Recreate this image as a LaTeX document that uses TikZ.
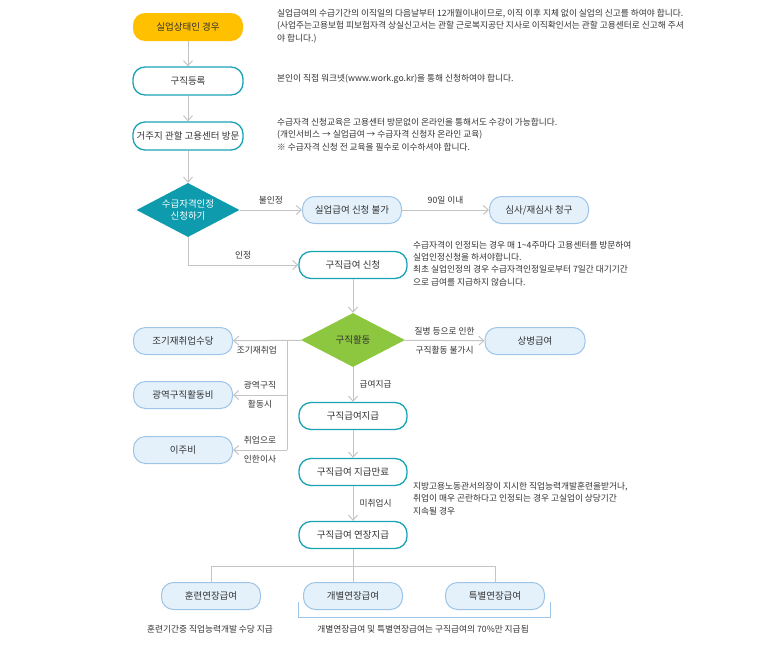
\documentclass[tikz,border=0pt]{standalone}
\usepackage{fontspec}
\setmainfont{Noto Sans CJK KR}
\usetikzlibrary{arrows.meta,shapes.geometric}
\definecolor{teal1}{HTML}{1AA3B5}
\definecolor{lbfill}{HTML}{E4F1FB}
\definecolor{lbdraw}{HTML}{9EC4E8}
\definecolor{ylw}{HTML}{FFC000}
\definecolor{dteal}{HTML}{0E9BAE}
\definecolor{grn}{HTML}{8DC63F}
\definecolor{lin}{HTML}{C4C4C4}
\definecolor{txt}{HTML}{333333}
\begin{document}
\begin{tikzpicture}[x=1pt,y=-1pt,
 font=\fontsize{9.5}{11}\selectfont, text=txt,
 pill/.style={rounded corners=12pt,minimum height=27pt,inner sep=0pt,line width=1.3pt},
 whitebox/.style={pill,draw=teal1,fill=white,minimum width=108pt},
 bluebox/.style={pill,draw=lbdraw,fill=lbfill,line width=1pt,minimum width=99pt},
 dia/.style={diamond,aspect=1.9,inner sep=0pt,minimum width=104pt,minimum height=54pt,text=white},
 conn/.style={draw=lin,line width=1pt,-{Straight Barb[length=5pt,width=9pt]}},
 plain/.style={draw=lin,line width=1pt},
 note/.style={font=\fontsize{8.7}{12.3}\selectfont,align=left,anchor=north west,inner sep=0pt},
 lab/.style={font=\fontsize{8.7}{10}\selectfont,inner sep=0pt}]
\useasboundingbox (0,0) rectangle (771,648);
\node[pill,fill=ylw,minimum width=110pt,minimum height=28pt,line width=0pt] (s1) at (188,27) {실업상태인 경우};
\node[whitebox,minimum width=110pt,minimum height=28pt] (s2) at (188,81) {구직등록};
\node[whitebox,minimum width=110pt,minimum height=28pt] (s3) at (188,136) {거주지 관할 고용센터 방문};
\node[dia,fill=dteal,minimum width=103pt,align=center,font=\fontsize{9.5}{12}\selectfont] (d1) at (188,210) {수급자격인정\\신청하기};
\node[bluebox] (n1) at (352,210) {실업급여 신청 불가};
\node[bluebox] (n2) at (539,210) {심사/재심사 청구};
\node[whitebox] (a1) at (353,265) {구직급여 신청};
\node[dia,fill=grn,text=txt] (d2) at (353,340) {구직활동};
\node[bluebox,minimum width=100pt] (sb) at (535,341) {상병급여};
\node[bluebox] (l1) at (183,341) {조기재취업수당};
\node[bluebox] (l2) at (183,395) {광역구직활동비};
\node[bluebox] (l3) at (183,450) {이주비};
\node[whitebox] (a2) at (353,416) {구직급여지급};
\node[whitebox] (a3) at (353,472) {구직급여 지급만료};
\node[whitebox] (a4) at (353,535) {구직급여 연장지급};
\node[bluebox] (e1) at (211,596) {훈련연장급여};
\node[bluebox] (e2) at (353,596) {개별연장급여};
\node[bluebox] (e3) at (495,596) {특별연장급여};
% notes
\node[note] (t1) at (277,9) {실업급여의 수급기간의 이직일의 다음날부터 12개월이내이므로, 이직 이후 지체 없이 실업의 신고를 하여야 합니다.\\(사업주는고용보험 피보험자격 상실신고서는 관할 근로복지공단 지사로 이직확인서는 관할 고용센터로 신고해 주셔\\야 합니다.)};
\node[note] (t2) at (277,74) {본인이 직접 워크넷(www.work.go.kr)을 통해 신청하여야 합니다.};
\node[note] (t3) at (277,118) {수급자격 신청교육은 고용센터 방문없이 온라인을 통해서도 수강이 가능합니다.\\(개인서비스 → 실업급여 → 수급자격 신청자 온라인 교육)\\※ 수급자격 신청 전 교육을 필수로 이수하셔야 합니다.};
\node[note] (t4) at (413,241) {수급자격이 인정되는 경우 매 1\textasciitilde4주마다 고용센터를 방문하여\\실업인정신청을 하셔야합니다.\\최초 실업인정의 경우 수급자격인정일로부터 7일간 대기기간\\으로 급여를 지급하지 않습니다.};
\node[note] (t5) at (413,482) {지방고용노동관서의장이 지시한 직업능력개발훈련을받거나,\\취업이 매우 곤란하다고 인정되는 경우 고실업이 상당기간\\지속될 경우};
\node[lab] (t6) at (210,629) {훈련기간중 직업능력개발 수당 지급};
\node[lab] (t7) at (423,629) {개별연장급여 및 특별연장급여는 구직급여의 70\%만 지급됨};
% connectors
\draw[conn] (s1) -- (s2);
\draw[conn] (s2) -- (s3);
\draw[conn] (s3) -- (d1);
\draw[conn] (d1) -- node[lab,above=5pt] {불인정} (n1);
\draw[conn] (n1) -- node[lab,above=5pt] {90일 이내} (n2);
\draw[conn] (d1.south) |- node[lab,pos=0.75,above=5pt] {인정} (a1);
\draw[conn] (a1) -- (d2);
\draw[conn] (d2) -- node[lab,above=5pt] {질병 등으로 인한} node[lab,below=5pt] {구직활동 불가시} (sb);
\coordinate (v1) at (287,340);
\coordinate (v2) at (287,450);
\draw[conn] (d2) -- node[lab,pos=0.65,below=5pt] {조기재취업} (l1);
\draw[plain] (v1) -- (v2);
\draw[conn] (l2 -| v1) -- node[lab,above=5pt] {광역구직} node[lab,below=5pt] {활동시} (l2);
\draw[conn] (v2) -- node[lab,above=5pt] {취업으로} node[lab,below=5pt] {인한이사} (l3);
\draw[conn] (d2) -- node[lab,right=6pt] {급여지급} (a2);
\draw[conn] (a2) -- (a3);
\draw[conn] (a3) -- node[lab,right=6pt] {미취업시} (a4);
\coordinate (b0) at (353,566);
\draw[plain] (a4) -- (b0);
\draw[plain] (e1.north |- b0) -- (e3.north |- b0);
\draw[plain] (e1.north |- b0) -- (e1.north);
\draw[plain] (b0) -- (e2.north);
\draw[plain] (e3.north |- b0) -- (e3.north);
\draw[draw=lbdraw,line width=0.8pt] (298,602) -- (298,617) -- (550,617) -- (550,602);
\end{tikzpicture}
\end{document}
